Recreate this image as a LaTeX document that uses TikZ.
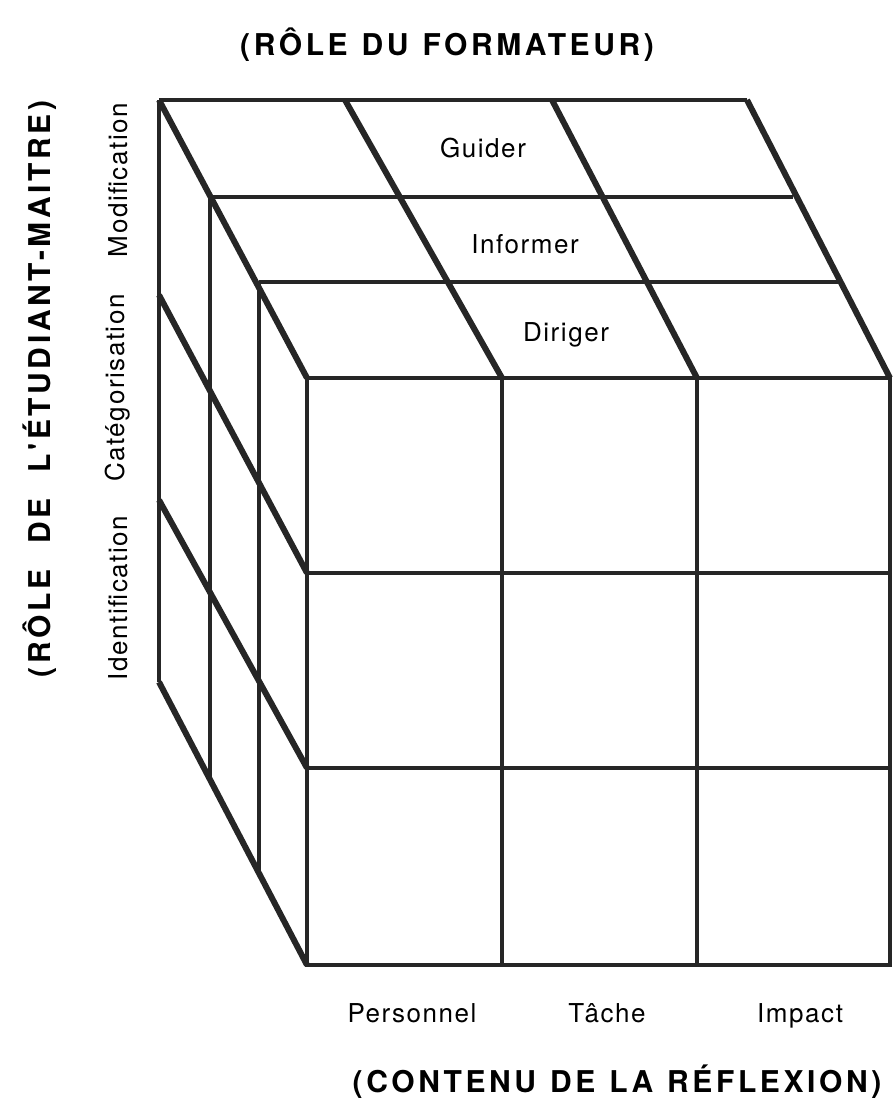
\documentclass[tikz,border=0pt]{standalone}
\usepackage{fontspec}
\setmainfont{TeX Gyre Heros}
\newfontfamily\labfont[LetterSpace=6]{TeX Gyre Heros}
\newfontfamily\titfont[LetterSpace=12]{TeX Gyre Heros}
\begin{document}
\begin{tikzpicture}[x=1pt,y=-1pt,
  thin/.style={line width=3.8pt,color=black!85},
  thick/.style={line width=4.8pt,color=black!85,line join=miter},
  diag/.style={line width=6pt,color=black!85,line join=miter},
  lab/.style={font=\fontsize{26}{30}\selectfont\labfont,inner sep=0pt},
  tit/.style={font=\fontsize{30}{34}\selectfont\titfont\bfseries,inner sep=0pt}]
\useasboundingbox (0,0) rectangle (893,1103);
% top face points
\coordinate (A0) at (159,100); \coordinate (A1) at (345,100);
\coordinate (A2) at (552,100); \coordinate (A3) at (747,100);
\coordinate (B0) at (210,197); \coordinate (B3) at (793,197);
\coordinate (C0) at (259,282); \coordinate (C3) at (840,282);
\coordinate (D0) at (307,378); \coordinate (D1) at (502,378);
\coordinate (D2) at (697,378); \coordinate (D3) at (890,378);
% front rows
\coordinate (E0) at (307,573); \coordinate (E3) at (890,573);
\coordinate (F0) at (307,768); \coordinate (F3) at (890,768);
\coordinate (G0) at (307,965); \coordinate (G1) at (502,965);
\coordinate (G2) at (697,965); \coordinate (G3) at (890,965);
% left face back points
\coordinate (L1) at (159,295); \coordinate (L2) at (159,500); \coordinate (L3) at (159,682);
\coordinate (V1) at (210,780); \coordinate (V2) at (259,873);
% front face
\draw[thin] (D1) -- (G1);
\draw[thin] (D2) -- (G2);
\draw[thick] (E0) -- (E3);
\draw[thick] (F0) -- (F3);
\draw[thick] (D0) -- (D3) -- (G3) -- (G0) -- cycle;
% top face
\draw[thick] (A0) -- (A3);
\draw[thick] (B0) -- (B3);
\draw[thick] (C0) -- (C3);
\draw[diag] (A1) -- (D1);
\draw[diag] (A2) -- (D2);
\draw[diag] (A3) -- (D3);
\draw[diag] (A0) -- (D0);
% left face
\draw[thin] (B0) -- (V1);
\draw[thin] (C0) -- (V2);
\draw[thick] (A0) -- (L3);
\draw[diag] (L1) -- (E0);
\draw[diag] (L2) -- (F0);
\draw[diag] (L3) -- (G0);
% labels
\node[lab,anchor=base] (guider) at (483,157) {Guider};
\node[lab,anchor=base] (informer) at (525,253) {Informer};
\node[lab,anchor=base] (diriger) at (566,341) {Diriger};
\node[lab,anchor=base] (pers) at (412,1022) {Personnel};
\node[lab,anchor=base] (tache) at (607,1022) {Tâche};
\node[lab,anchor=base] (impact) at (800,1022) {Impact};
\node[lab,rotate=90] (modif) at (118,180) {Modification};
\node[lab,rotate=90] (categ) at (118,388) {Catégorisation};
\node[lab,rotate=90] (ident) at (118,598) {Identification};
\node[tit] (tform) at (447,45) {(RÔLE\hspace{14pt}DU\hspace{14pt}FORMATEUR)};
\node[tit] (tcont) at (617,1082) {(CONTENU\hspace{14pt}DE\hspace{14pt}LA\hspace{14pt}RÉFLEXION)};
\node[tit,rotate=90] (tetud) at (40,389) {(RÔLE\hspace{26pt}DE\hspace{26pt}L'ÉTUDIANT-MAITRE)};
\end{tikzpicture}
\end{document}
